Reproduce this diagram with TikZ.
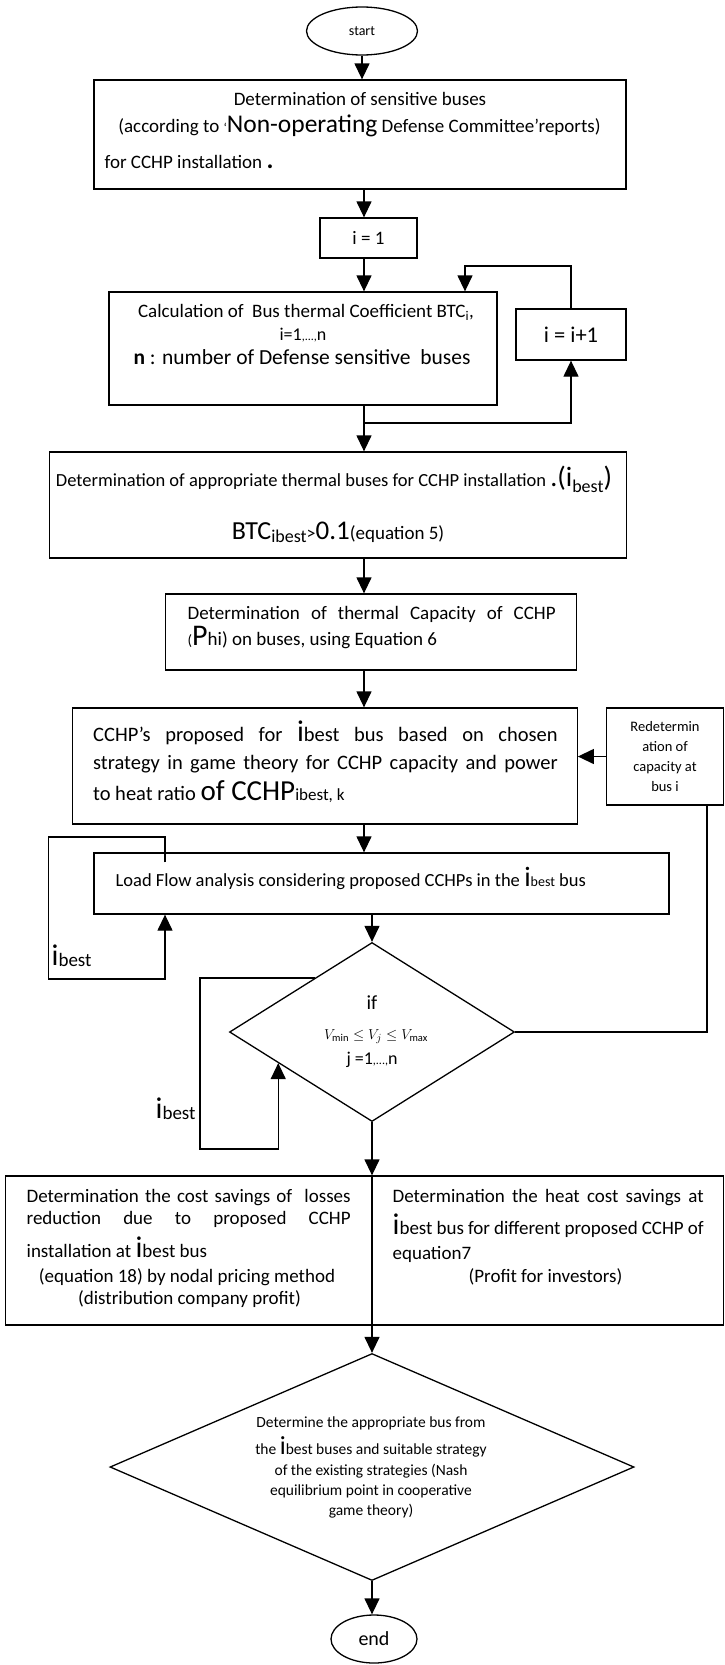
\documentclass[tikz,border=0pt]{standalone}
\usepackage{fontspec}
\setmainfont{Carlito}
\usetikzlibrary{shapes.geometric,arrows.meta,calc}
\newcommand{\myfs}[1]{\fontsize{#1}{#1}\selectfont}
\begin{document}
\begin{tikzpicture}[x=1pt,y=-1pt,line width=1.3pt,
  box/.style={draw, rectangle, inner sep=0pt, line width=1.3pt},
  txt/.style={inner sep=0pt, anchor=mid, font=\myfs{19}},
  txw/.style={inner sep=0pt, anchor=mid west, font=\myfs{19}},
  arr/.style={-{Triangle[length=16pt,width=15pt]}},
  oval/.style={draw, ellipse, inner sep=0pt}]
\useasboundingbox (0,0) rectangle (725,1665);

% ---- start
\node[oval, minimum width=111pt, minimum height=48pt, font=\myfs{14}] (start) at (362,31) {start};

% ---- box 1
\node[box, minimum width=532pt, minimum height=109pt] (box1) at (360,134.5) {};
\node[txt] (b1a) at (360,103) {Determination of sensitive buses};
\node[txt] (b1b) at (359.5,130) {(according to {\myfs{13}‘}{\myfs{25.5}Non-operating} {\myfs{19}Defense Committee’reports})};
\node[txw] (b1c) at (104,166) {for CCHP installation {\myfs{26}\textbf{.}}};

% ---- i = 1
\node[box, minimum width=97pt, minimum height=40pt, font=\myfs{19}] (i1) at (368.5,238) {i = 1};

% ---- calculation box
\node[box, minimum width=388pt, minimum height=113pt] (calc) at (303,348.5) {};
\node[txt, font=\myfs{19}] (c1) at (306,315) {Calculation of\ \ Bus thermal Coefficient BTC\textsubscript{i},};
\node[txt, font=\myfs{18}] (c2) at (303,338) {i=1{\myfs{12},...,}n};
\node[txt, font=\myfs{21.5}] (c3) at (302,362) {\textbf{n} : number of Defense sensitive\ \ buses};

% ---- i = i+1
\node[box, minimum width=110pt, minimum height=51pt, font=\myfs{22.5}] (inc) at (571,334.5) {i = i+1};

% ---- box 3
\node[box, minimum width=576.5pt, minimum height=106pt] (box3) at (338,505) {};
\node[txt, font=\myfs{18.5}] (b3a) at (334,484) {Determination of appropriate thermal buses for CCHP installation {\myfs{28}.(i}\raisebox{-6pt}{\myfs{18}best}{\myfs{28})}};
\node[txt] (b3b) at (338,537) {{\myfs{26}BTC}\raisebox{-3pt}{\myfs{18}ibest}{\myfs{18}>}{\myfs{27}0.1}{\myfs{19}(equation 5)}};

% ---- box 4
\node[box, minimum width=411.5pt, minimum height=76pt] (box4) at (371,632) {};
\node[txw] (b4a) at (187,617) {\makebox[368pt][s]{Determination of thermal Capacity of CCHP}};
\node[txw] (b4b) at (187,643) {{\myfs{15}(}{\myfs{30}P}hi) on buses, using Equation 6};

% ---- box 5
\node[box, minimum width=504.5pt, minimum height=116pt] (box5) at (325,766) {};
\node[txw, font=\myfs{20.5}] (b5a) at (92.5,739) {\makebox[464.5pt][s]{CCHP's proposed for {\myfs{30}i}best bus based on chosen}};
\node[txw, font=\myfs{20.5}] (b5b) at (92.5,767) {\makebox[464.5pt][s]{strategy in game theory for CCHP capacity and power}};
\node[txw, font=\myfs{20.5}] (b5c) at (92.5,798) {to heat ratio {\myfs{29}of CCHP}{\myfs{17}ibest, k}};

% ---- redetermination
\node[box, minimum width=117.5pt, minimum height=97pt, align=center, font=\fontsize{14.5}{19.7}\selectfont] (redet) at (665,756.5) {Redetermin\\ation of\\capacity at\\bus i};

% ---- load flow
\node[box, minimum width=575pt, minimum height=61pt] (lf) at (381.5,883.5) {};
\node[txw, font=\myfs{18.5}] (lft) at (115,884) {Load Flow analysis considering proposed CCHPs in the {\myfs{28}i}{\myfs{14}best} bus};

% ---- decision 1
\node[draw, diamond, inner sep=0pt, minimum width=285pt, minimum height=179pt] (d1) at (372,1032) {};
\node[txt, font=\myfs{20}] (d1a) at (372,1007) {if};
\node[txt, font=\myfs{15}] (d1b) at (376,1037) {$V_{\min}\le V_j\le V_{\max}$};
\node[txt, font=\myfs{18}] (d1c) at (372,1062) {j =1{\myfs{12},...,}n};

% ---- labels
\node[inner sep=0pt, anchor=base west] (lb1) at (51,965) {{\myfs{30}i}\raisebox{-1pt}{\myfs{19}best}};
\node[inner sep=0pt, anchor=base west] (lb2) at (155,1118) {{\myfs{30}i}\raisebox{-1pt}{\myfs{19}best}};

% ---- box 6
\node[box, minimum width=718pt, minimum height=149pt] (box6) at (364.5,1250.5) {};
\begin{scope}[every node/.append style={font=\myfs{18.7}}]
\node[txw] (l1) at (26,1200) {\makebox[324pt][s]{Determination the cost savings of\ \ losses}};
\node[txw] (l2) at (26,1222) {\makebox[324pt][s]{reduction due to proposed CCHP}};
\node[txw] (l3) at (26,1255) {installation at {\myfs{30}i}best bus};
\node[txt] (l4) at (187,1280) {(equation 18) by nodal pricing method};
\node[txt] (l5) at (189.5,1302) {(distribution company profit)};
\node[txw] (r1) at (392,1200) {\makebox[311pt][s]{Determination the heat cost savings at}};
\node[txw] (r2) at (392,1232) {\makebox[311pt][s]{{\myfs{30}i}best bus for different proposed CCHP of}};
\node[txw] (r3) at (392,1257) {equation7};
\node[txt] (r4) at (545.5,1280) {(Profit for investors)};
\end{scope}

% ---- decision 2
\node[draw, diamond, inner sep=0pt, minimum width=524pt, minimum height=227pt] (d2) at (372,1467) {};
\node[txt, font=\myfs{15.5}] (e1) at (371,1425) {Determine the appropriate bus from};
\node[txt, font=\myfs{15.5}] (e2) at (371,1452) {the {\myfs{26}i}best buses and suitable strategy};
\node[txt, font=\myfs{15.5}] (e3) at (371,1473) {of the existing strategies (Nash};
\node[txt, font=\myfs{15.5}] (e4) at (371,1493) {equilibrium point in cooperative};
\node[txt, font=\myfs{15.5}] (e5) at (371,1513) {game theory)};

% ---- end
\node[oval, minimum width=86pt, minimum height=48pt, font=\myfs{20}] (end) at (374,1639) {end};

% ---- connectors
\coordinate (ax1) at (364,0);
\coordinate (J) at (364,423);
\coordinate (T) at (465,266);
\coordinate (rx) at (707,0);
\coordinate (lx) at (165,0);
\coordinate (L1) at (48.5,837);
\coordinate (L2) at (48.5,979);
\coordinate (Q) at (200,1149);
\coordinate (P1) at ($(d1.north)!0.4!(d1.west)$);
\coordinate (P2) at ($(d1.west)!0.345!(d1.south)$);

\draw[arr] (start.south) -- (start.south |- box1.north);
\draw[arr] (box1.south -| ax1) -- (i1.north -| ax1);
\draw[arr] (i1.south -| ax1) -- (calc.north -| ax1);
\draw[arr] (calc.south -| ax1) -- (box3.north -| ax1);
\draw[arr] (J) -| (inc.south);
\draw[arr] (inc.north) |- (T) -- (T |- calc.north);
\draw[arr] (box3.south -| ax1) -- (box4.north -| ax1);
\draw[arr] (box4.south -| ax1) -- (box5.north -| ax1);
\draw[arr] (box5.south -| ax1) -- (lf.north -| ax1);
\draw[arr] (redet.west) -- (redet.west -| box5.east);
\draw[arr] ($(lf.north -| lx)+(0,10)$) |- (L1) -- (L2) -| (lf.south -| lx);
\draw[arr] (lf.south -| d1.north) -- (d1.north);
\draw (d1.east) -- (d1.east -| rx) -- (rx |- redet.south);
\draw[arr] (P1) -- (P1 -| Q) -- (Q) -| (P2);
\draw[arr] (d1.south) -- (d1.south |- box6.north);
\draw (d1.south |- box6.north) -- (d1.south |- box6.south);
\draw[arr] (d1.south |- box6.south) -- (d2.north);
\draw[arr] (d2.south) -- (d2.south |- end.north);
\end{tikzpicture}
\end{document}
